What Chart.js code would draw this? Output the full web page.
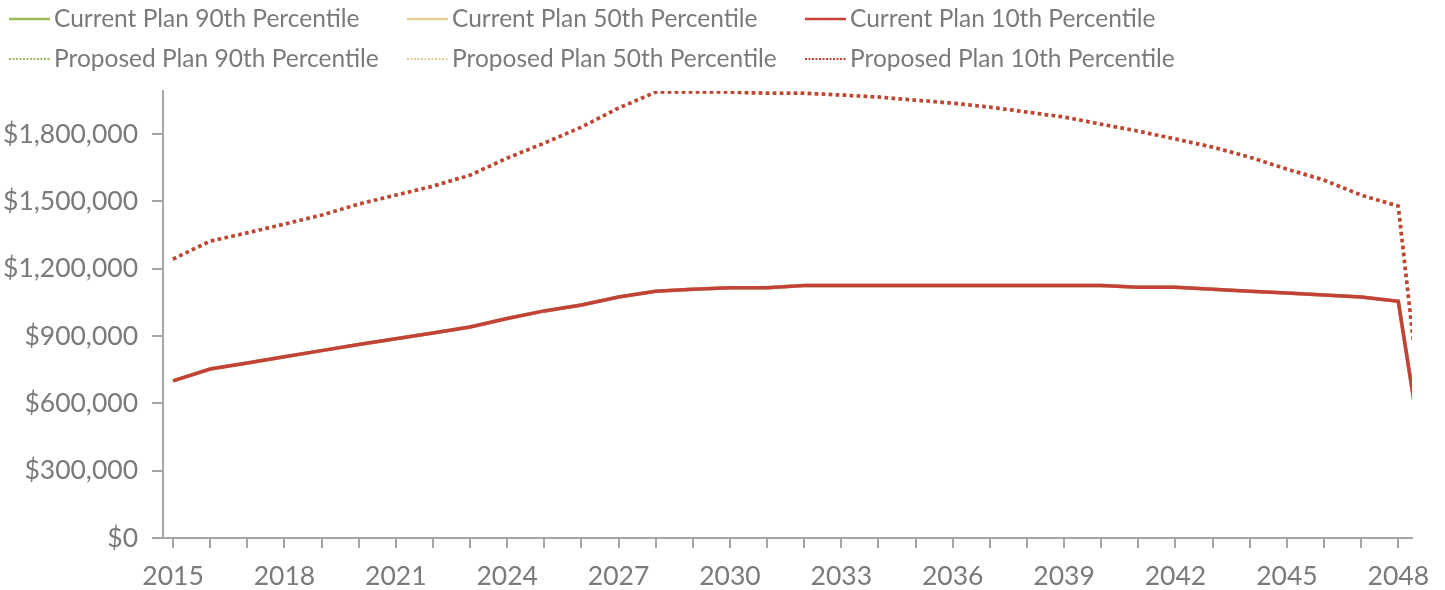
<!DOCTYPE html>
<html>
<head>
<meta charset="utf-8">
<script src="https://cdn.jsdelivr.net/npm/chart.js@4.4.1/dist/chart.umd.min.js"></script>
<style>
html,body{margin:0;padding:0;background:#fff;}
#wrap{width:1445px;height:590px;position:relative;}
</style>
</head>
<body>
<div id="wrap"><canvas id="chart"></canvas></div>
<script>
// years on the x axis (the 2049 point falls just past the right edge)
var years = [2015,2016,2017,2018,2019,2020,2021,2022,2023,2024,2025,2026,2027,2028,2029,2030,2031,2032,
	2033,2034,2035,2036,2037,2038,2039,2040,2041,2042,2043,2044,2045,2046,2047,2048,2049];
var xTickLabels = [2015,2018,2021,2024,2027,2030,2033,2036,2039,2042,2045,2048];
var yTicks = [0,300000,600000,900000,1200000,1500000,1800000];

var current10 = [700000,753000,780000,808000,835000,862000,888000,914000,940000,978000,1012000,1038000,1074000,1100000,
	1108000,1115000,1115000,1125000,1125000,1125000,1125000,1125000,1125000,1125000,1125000,1125000,1117000,1117000,
	1108000,1100000,1092000,1083000,1074000,1055000,0];
var proposed10 = [1243000,1323000,1360000,1399000,1439000,1488000,1528000,1568000,1617000,1693000,1760000,1831000,1916000,1987000,
	1987000,1987000,1982000,1982000,1974000,1965000,1951000,1938000,1920000,1898000,1876000,1844000,1813000,1778000,
	1742000,1697000,1644000,1595000,1528000,1479000,0];
// the 90th and 50th percentile lines sit right under the 10th percentile lines
var current90 = current10.slice();
var current50 = current10.slice();
var proposed90 = proposed10.slice();
var proposed50 = proposed10.slice();

var labels = ["Current Plan 90th Percentile","Current Plan 50th Percentile","Current Plan 10th Percentile",
	"Proposed Plan 90th Percentile","Proposed Plan 50th Percentile","Proposed Plan 10th Percentile"];

var green = "#9bbb59", tan = "#e3cd93", red = "#c4413a";
var grey = "#7a7a7a", axisGrey = "#a6a6a6";
var fontFamily = "Lato";

function series(label,values,color,dotted,order){
	var pts = [];
	for (var i = 0; i < years.length; i++){
		pts.push({x:years[i],y:values[i]});
	}
	return {
		label:label,
		data:pts,
		borderColor:color,
		backgroundColor:color,
		borderWidth:3.5,
		borderDash:dotted ? [3.5,3.5] : [],
		borderCapStyle:"butt",
		pointRadius:0,
		tension:0,
		fill:false,
		order:order,
		dotted:dotted
	};
}

// legend laid out as a 3x2 grid like the original
var gridLegend = {
	id:"gridLegend",
	afterDraw:function(chart){
		var ctx = chart.ctx;
		var cols = [9,407,805];
		var rows = [19,59];
		chart.data.datasets.forEach(function(ds,i){
			var x = cols[i%3];
			var y = rows[Math.floor(i/3)];
			ctx.save();
			ctx.strokeStyle = ds.borderColor;
			if (ds.dotted){
				ctx.lineWidth = 2;
				ctx.setLineDash([2,1.5]);
			} else {
				ctx.lineWidth = 2.5;
			}
			ctx.beginPath();
			ctx.moveTo(x,y);
			ctx.lineTo(x+41,y);
			ctx.stroke();
			ctx.setLineDash([]);
			ctx.fillStyle = grey;
			ctx.font = "24.5px " + fontFamily;
			ctx.textBaseline = "middle";
			ctx.fillText(ds.label,x+45,y);
			ctx.restore();
		});
	}
};

var ctx = document.getElementById("chart");
new Chart(ctx,{
	type:"line",
	data:{
		datasets:[
			series(labels[0],current90,green,false,3),
			series(labels[1],current50,tan,false,2),
			series(labels[2],current10,red,false,0),
			series(labels[3],proposed90,green,true,3),
			series(labels[4],proposed50,tan,true,2),
			series(labels[5],proposed10,red,true,1)
		]
	},
	options:{
		responsive:true,
		maintainAspectRatio:false,
		animation:false,
		layout:{padding:{top:91,right:33,left:0,bottom:0}},
		plugins:{legend:{display:false},tooltip:{enabled:false}},
		scales:{
			x:{
				type:"linear",
				min:2014.73,
				max:2048.37,
				afterBuildTicks:function(scale){
					scale.ticks = years.slice(0,34).map(function(v){return {value:v};});
				},
				afterFit:function(scale){ scale.height = 52; },
				grid:{display:true,drawOnChartArea:false,drawTicks:true,tickLength:10,color:axisGrey,lineWidth:2},
				border:{display:true,color:axisGrey,width:2},
				ticks:{
					autoSkip:false,
					maxRotation:0,
					padding:13,
					color:grey,
					font:{family:fontFamily,size:26.5},
					callback:function(v){
						return xTickLabels.indexOf(v) >= 0 ? String(v) : "";
					}
				}
			},
			y:{
				min:0,
				max:1992000,
				afterBuildTicks:function(scale){
					scale.ticks = yTicks.map(function(v){return {value:v};});
				},
				afterFit:function(scale){ scale.width = 163; },
				grid:{display:true,drawOnChartArea:false,drawTicks:true,tickLength:11,color:axisGrey,lineWidth:2},
				border:{display:true,color:axisGrey,width:2},
				ticks:{
					padding:14,
					color:grey,
					font:{family:fontFamily,size:26.5},
					callback:function(v){
						return "$" + v.toLocaleString("en-US");
					}
				}
			}
		}
	},
	plugins:[gridLegend]
});
</script>
</body>
</html>
